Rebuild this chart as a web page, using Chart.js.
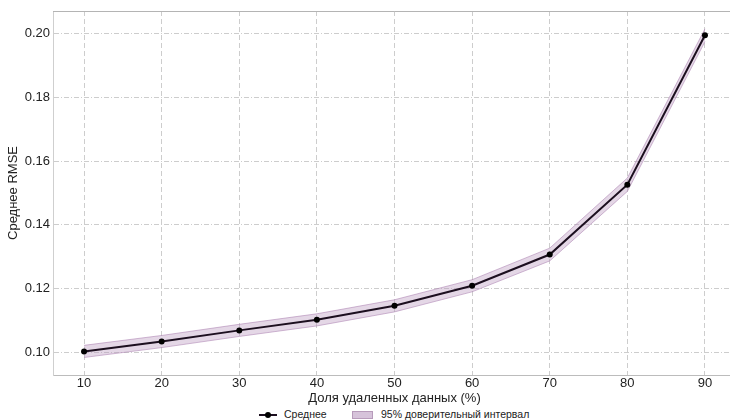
<!DOCTYPE html>
<html>
<head>
<meta charset="utf-8">
<script src="https://cdn.jsdelivr.net/npm/chart.js@4/dist/chart.umd.min.js"></script>
<style>
  html, body { margin: 0; padding: 0; background: #fff; }
  .wrap { position: relative; width: 730px; height: 420px; overflow: hidden; }
  .plot { position: absolute; left: 0; top: 0; width: 740px; height: 406px; }
  .legend { position: absolute; left: 0; top: 406px; width: 730px; height: 14px;
    font: 10.5px "Liberation Sans", Arial, sans-serif; color: #222; }
  .legend span { position: absolute; top: 2px; line-height: 12px; white-space: nowrap; }
  .sym-line { position: absolute; left: 259px; top: 8px; width: 18px; height: 2px; background: #1c0f1f; }
  .sym-dot { position: absolute; left: 265px; top: 6px; width: 6px; height: 6px; border-radius: 50%; background: #000; }
  .sym-box { position: absolute; left: 352px; top: 5px; width: 19px; height: 6px;
    background: rgba(200,175,205,0.75); border: 1px solid #b79bbb; }
</style>
</head>
<body>
<div class="wrap">
  <div class="plot"><canvas id="rmseChart" width="740" height="406"></canvas></div>
  <div class="legend">
    <div class="sym-line"></div><div class="sym-dot"></div>
    <span style="left:284px">Среднее</span>
    <div class="sym-box"></div>
    <span style="left:381px">95% доверительный интервал</span>
  </div>
</div>
<script>
// data
const removedPct = [10, 20, 30, 40, 50, 60, 70, 80, 90];
const meanRmse  = [0.1003, 0.1034, 0.1069, 0.1102, 0.1146, 0.1209, 0.1307, 0.1526, 0.1995];
const ciUpper   = [0.1022, 0.1053, 0.1088, 0.1121, 0.1165, 0.1228, 0.1327, 0.1547, 0.2015];
const ciLower   = [0.0984, 0.1015, 0.1050, 0.1083, 0.1127, 0.1190, 0.1287, 0.1505, 0.1975];
const xTicks = [10, 20, 30, 40, 50, 60, 70, 80, 90];
const yTicks = [0.10, 0.12, 0.14, 0.16, 0.18, 0.20];

const pts = (ys) => removedPct.map((x, i) => ({ x: x, y: ys[i] }));
const font = { family: '"Liberation Sans", Arial, sans-serif', size: 13 };
const gridStyle = { color: '#cdcdcd', lineWidth: 1 };

// top edge of the frame (no axis lives there)
const topFrame = {
    id: 'topFrame',
    afterDraw(chart) {
        const { ctx, chartArea } = chart;
        ctx.save();
        ctx.strokeStyle = '#b4b4b4';
        ctx.lineWidth = 1;
        ctx.beginPath();
        ctx.moveTo(chartArea.left, chartArea.top + 0.5);
        ctx.lineTo(chartArea.right, chartArea.top + 0.5);
        ctx.stroke();
        ctx.restore();
    }
};

const ctx = document.getElementById('rmseChart').getContext('2d');
new Chart(ctx, {
    type: 'line',
    data: {
        datasets: [
            {
                label: 'Среднее',
                data: pts(meanRmse),
                borderColor: '#1c0f1f',
                borderWidth: 2,
                pointRadius: 3,
                pointBackgroundColor: '#000',
                pointBorderColor: '#000',
                pointBorderWidth: 0,
                order: 0
            },
            {
                label: 'upper',
                data: pts(ciUpper),
                borderColor: 'rgba(170,125,175,0.55)',
                borderWidth: 1,
                pointRadius: 0,
                fill: '+1',
                backgroundColor: 'rgba(185,150,190,0.38)',
                order: 1
            },
            {
                label: 'lower',
                data: pts(ciLower),
                borderColor: 'rgba(170,125,175,0.55)',
                borderWidth: 1,
                pointRadius: 0,
                fill: false,
                order: 2
            }
        ]
    },
    options: {
        responsive: false,
        animation: false,
        layout: { padding: { left: 0, right: 0, top: 11, bottom: 0 } },
        plugins: { legend: { display: false }, tooltip: { enabled: false } },
        scales: {
            x: {
                type: 'linear',
                min: 6,
                max: 94,
                afterBuildTicks: (s) => { s.ticks = xTicks.map(v => ({ value: v })); },
                afterFit: (s) => { s.height = 31; },
                ticks: { font: font, color: '#222', padding: 1 },
                grid: Object.assign({ drawTicks: false }, gridStyle),
                border: { color: '#bcbcbc', dash: [5, 3] },
                title: { display: true, text: 'Доля удаленных данных (%)', font: font, color: '#222', padding: { top: 0, bottom: 0 } }
            },
            y: {
                min: 0.0929,
                max: 0.2071,
                afterBuildTicks: (s) => { s.ticks = yTicks.map(v => ({ value: v })); },
                afterFit: (s) => { s.width = 53; },
                ticks: { font: font, color: '#222', padding: 3, callback: (v) => v.toFixed(2) },
                grid: Object.assign({ drawTicks: false }, gridStyle),
                border: { color: '#cfcfcf', dash: [5, 2, 1, 2] },
                title: { display: true, text: 'Среднее RMSE', font: font, color: '#222', padding: { top: 6, bottom: 0 } }
            }
        }
    },
    plugins: [topFrame]
});
</script>
</body>
</html>
